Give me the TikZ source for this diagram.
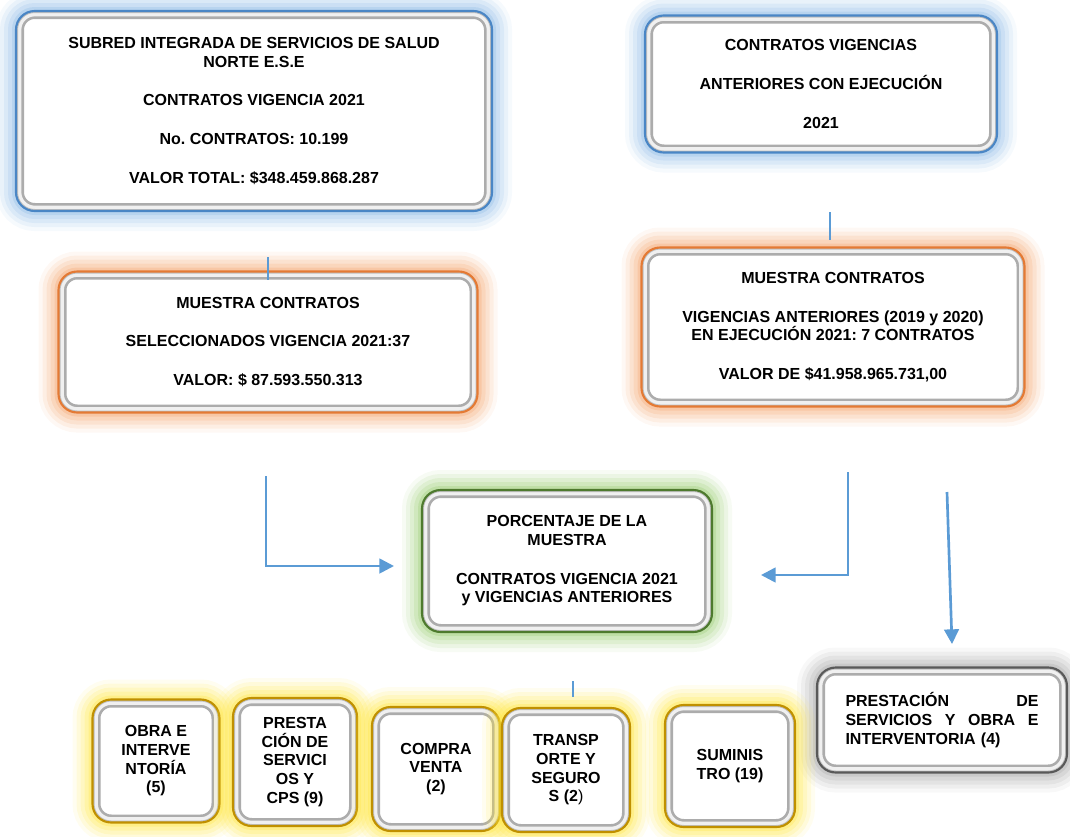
\documentclass[tikz,border=0pt]{standalone}
\usepackage{fontspec}
\setmainfont{Liberation Sans}
\usetikzlibrary{arrows.meta}
\definecolor{azulflecha}{HTML}{5B9BD5}
\definecolor{bordeazul}{HTML}{4A86C5}
\definecolor{brilloazul}{HTML}{8DBAE6}
\definecolor{bordenaranja}{HTML}{E47A34}
\definecolor{brillonaranja}{HTML}{F4A56E}
\definecolor{bordeverde}{HTML}{4E7A2E}
\definecolor{brilloverde}{HTML}{98CC70}
\definecolor{bordeoro}{HTML}{C09000}
\definecolor{brillooro}{HTML}{FFE640}
\definecolor{bordegris}{HTML}{595959}
\definecolor{brillogris}{HTML}{A8A8A8}
\begin{document}
\begin{tikzpicture}[x=0.75pt,y=-0.75pt,
  caja/.style n args={2}{rounded corners=14pt, fill=white, draw=#1, line width=1.6pt,
    preaction={draw=#2, line width=30pt, opacity=.08},
    preaction={draw=#2, line width=24pt, opacity=.12},
    preaction={draw=#2, line width=18pt, opacity=.16},
    preaction={draw=#2, line width=12pt, opacity=.2},
    preaction={draw=#2, line width=6pt, opacity=.3},
    path picture={
      \draw[gray!65, line width=12pt, rounded corners=14pt] (path picture bounding box.south west) rectangle (path picture bounding box.north east);
      \draw[gray!12, line width=8pt, rounded corners=14pt] (path picture bounding box.south west) rectangle (path picture bounding box.north east);
      \draw[gray!50, line width=3pt, rounded corners=14pt] (path picture bounding box.south west) rectangle (path picture bounding box.north east);
    },
    align=center, inner sep=0pt, font=\frenchspacing\bfseries\fontsize{12}{14}\selectfont},
  tam/.style 2 args={minimum width=#1*0.75pt, minimum height=#2*0.75pt},
  flecha/.style={azulflecha, line width=2pt, -{Triangle[length=11pt,width=11pt]}},
  tramo/.style={azulflecha, line width=1pt}]
    \useasboundingbox (0,0) rectangle (1070,836);
    \node[caja={bordeazul}{brilloazul}, tam={476}{200}] (subred) at (254,111)
      {SUBRED INTEGRADA DE SERVICIOS DE SALUD\\NORTE E.S.E\\[15pt]CONTRATOS VIGENCIA 2021\\[15pt]No. CONTRATOS: 10.199\\[15pt]VALOR TOTAL: \$348.459.868.287};
    \node[caja={bordeazul}{brilloazul}, tam={352}{137}] (vigAnt) at (821,84)
      {CONTRATOS VIGENCIAS\\[15pt]ANTERIORES CON EJECUCIÓN\\[15pt]2021};
    \node[caja={bordenaranja}{brillonaranja}, tam={419}{141}] (muestra21) at (268,342)
      {MUESTRA CONTRATOS\\[15pt]SELECCIONADOS VIGENCIA 2021:37\\[15pt]VALOR: \$ 87.593.550.313};
    \node[caja={bordenaranja}{brillonaranja}, tam={383}{159}] (muestraAnt) at (833,327)
      {MUESTRA CONTRATOS\\[15pt]VIGENCIAS ANTERIORES (2019 y 2020)\\EN EJECUCIÓN 2021: 7 CONTRATOS\\[15pt]VALOR DE \$41.958.965.731,00};
    \node[caja={bordeverde}{brilloverde}, tam={290}{142}] (porcentaje) at (567,561)
      {PORCENTAJE DE LA\\MUESTRA\\[15pt]CONTRATOS VIGENCIA 2021\\y VIGENCIAS ANTERIORES};
    \node[caja={bordegris}{brillogris}, tam={250}{105}, text width=144.75pt, align=left] (prestObra) at (942,720)
      {PRESTACIÓN\hfill DE\\SERVICIOS\hfill Y\hfill OBRA\hfill E\\INTERVENTORIA (4)};
    \node[caja={bordeoro}{brillooro}, tam={127}{123}] (obra) at (156,761)
      {OBRA E\\INTERVE\\NTORÍA\\(5)};
    \node[caja={bordeoro}{brillooro}, tam={124}{128}] (prestacion) at (295,762)
      {PRESTA\\CIÓN DE\\SERVICI\\OS Y\\CPS (9)};
    \node[caja={bordeoro}{brillooro}, tam={128}{124}] (compra) at (436,769)
      {COMPRA\\VENTA\\(2)};
    \node[caja={bordeoro}{brillooro}, tam={128}{124}] (transporte) at (566,770)
      {TRANSP\\ORTE Y\\SEGURO\\S (2\textmd{)}};
    \node[caja={bordeoro}{brillooro}, tam={130}{122}] (suministro) at (730,766)
      {SUMINIS\\TRO (19)};
    \coordinate (tramoA) at (268,257);
    \coordinate (tramoB1) at (830,212);
    \coordinate (tramoB2) at (830,240);
    \coordinate (tramoC1) at (573,681);
    \coordinate (tramoC2) at (573,697);
    \draw[tramo] (tramoA) -- ([yshift=-7.5pt]muestra21.north);
    \draw[tramo] (tramoB1) -- (tramoB2);
    \draw[tramo] (tramoC1) -- (tramoC2);
    \coordinate (izqIni) at (266,476);
    \coordinate (izqFin) at (394,566);
    \coordinate (derIni) at (848,472);
    \coordinate (derFin) at (761,575);
    \coordinate (bajIni) at (947,492);
    \coordinate (bajFin) at (952,644);
    \draw[flecha] (izqIni) |- (izqFin);
    \draw[flecha] (derIni) |- (derFin);
    \draw[flecha] (bajIni) -- (bajFin);
\end{tikzpicture}
\end{document}
